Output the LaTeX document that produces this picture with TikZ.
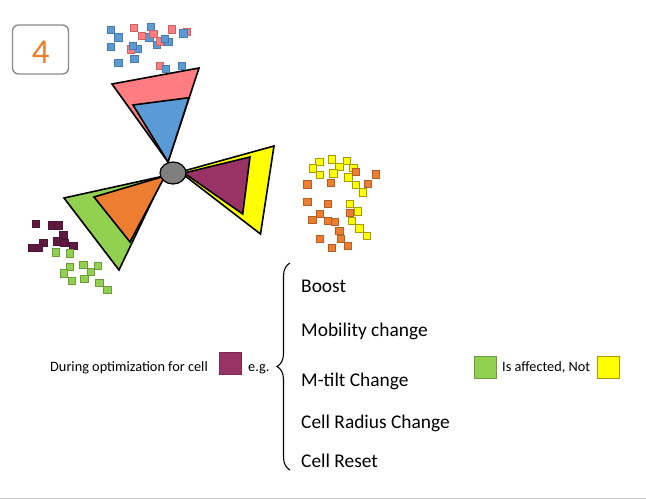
\documentclass[tikz,border=0pt]{standalone}
\usepackage{fontspec}
\setmainfont{Carlito}
\usetikzlibrary{decorations.pathreplacing,shapes.geometric}
\definecolor{cpink}{HTML}{FF7C80}
\definecolor{cblue}{HTML}{5B9BD5}
\definecolor{cyellow}{HTML}{FFFF00}
\definecolor{cpurple}{HTML}{993366}
\definecolor{cgreen}{HTML}{92D050}
\definecolor{corange}{HTML}{ED7D31}
\definecolor{cmaroon}{HTML}{5E1A40}
\definecolor{cgray}{HTML}{7F7F7F}
\definecolor{cframe}{HTML}{8C8C8C}
\tikzset{
  wedge/.style={draw=black, line width=1.6pt, line join=miter},
  sq/.style={line width=0.6pt},
  bigtxt/.style={font=\fontsize{19.4}{21}\selectfont, anchor=base west, inner sep=0pt},
  smalltxt/.style={font=\fontsize{14.3}{16}\selectfont, anchor=base west, inner sep=0pt},
  swatch/.style={minimum width=22pt, minimum height=22pt, inner sep=0pt, line width=0.6pt},
}
\newcommand{\sqs}[3]{\foreach \px/\py in {#3} {\draw[sq, fill=#1, draw=#2] (\px-3.6,\py-3.6) rectangle (\px+3.6,\py+3.6);}}
\begin{document}
\begin{tikzpicture}[x=1pt,y=-1pt]
\useasboundingbox (0,0) rectangle (646,500);
\fill[white] (0,0) rectangle (646,500);
\draw[line width=1.2pt, color=black!20] (0,498.8) -- (646,498.8);
% badge
\node[draw=cframe, line width=1.4pt, rounded corners=6pt, minimum width=56pt, minimum height=49pt] (badge) at (40.5,49.5) {};
\node[font=\fontsize{35}{37}\selectfont, text=corange, anchor=base, inner sep=0pt] (num) at (40.7,63.3) {4};
% wedges
\draw[wedge, fill=cpink] (168,162) -- (112,84) -- (199,68) -- cycle;
\draw[wedge, fill=cblue] (168,162) -- (133,105) -- (189,97.7) -- cycle;
\draw[wedge, fill=cyellow] (180,172) -- (274,146) -- (260.5,234) -- cycle;
\draw[wedge, fill=cpurple] (184,173) -- (250,157) -- (242.7,214) -- cycle;
\draw[wedge, fill=cgreen] (164,176) -- (64,198) -- (119,270) -- cycle;
\draw[wedge, fill=corange] (165,176) -- (94,197) -- (130,242) -- cycle;
\node[draw=black, line width=1.2pt, fill=cgray, ellipse, minimum width=26pt, minimum height=22pt, inner sep=0pt] (hub) at (173,173) {};
% squares
\sqs{cblue}{cblue!80!black}{110.7/30, 118.3/37.3, 151/26.7, 149.3/37.3, 183.3/33.3, 110.7/46.7, 132.7/46, 137.3/49, 156.7/44.7, 165/39, 168.3/41.7, 118.3/62.7, 134.3/59, 166/69, 181.7/66}
\sqs{cpink}{cpink!80!black}{134/28, 141.7/35.7, 153.3/34, 172/29.3, 186.7/31.7, 131/49.3, 160/41.3, 160/66}
\sqs{cblue}{cblue!80!black}{132.7/46, 166/69, 165/39, 183.3/33.3}
\sqs{cyellow}{olive!80!yellow}{319.3/161.7, 331.7/159.3, 346.7/160.7, 312.7/168.3, 339.3/166.7, 353.3/167.7, 320/175, 333.3/173.3, 348.3/177.3, 355.7/185, 362.7/192.3, 350/204, 357.7/211.3, 352/220.7, 359.3/228.3, 367/235.7}
\sqs{corange}{corange!75!black}{355.7/172, 376/174.3, 307.3/184.3, 330.7/183, 368/184, 307.3/202, 327.7/203.7, 320/213.7, 349.7/212.7, 312.3/219.7, 327.7/221, 335/221.7, 339.3/230.7, 320/238.7, 340.7/238.7, 332/248, 348/246}
\sqs{cmaroon}{cmaroon!80!black}{36/224, 51.7/225.3, 58.3/225.3, 63.3/234.7, 57.3/241.3, 64.3/242.7, 43.3/242.7, 32.3/247.7, 39/247.7, 73.3/245.7}
\sqs{cgreen}{cgreen!75!black}{55.7/252.3, 70/253.3, 70/266.7, 83.3/265, 97.7/266, 64/273.3, 90.7/272, 71.7/280.7, 84.3/278.7, 99.3/282.7, 107.3/290}
% legend text
\node[smalltxt] (during) at (50,371) {During optimization for cell};
\node[swatch, draw=cpurple!80!black, fill=cpurple] (cellsw) at (230,363) {};
\node[smalltxt] (eg) at (248,371) {e.g.};
\coordinate (btop) at (290,263);
\coordinate (bbot) at (290,470);
\draw[decorate, decoration={brace, amplitude=13pt}, line width=1.1pt] (bbot) -- (btop);
\node[bigtxt] (boost) at (301,292.3) {Boost};
\node[bigtxt] (mob) at (301,336) {Mobility change};
\node[bigtxt] (mtilt) at (301,386) {M-tilt Change};
\node[bigtxt] (radius) at (301,428.3) {Cell Radius Change};
\node[bigtxt] (reset) at (301,467.3) {Cell Reset};
\node[swatch, draw=cgreen!75!black, fill=cgreen] (gsw) at (485,367) {};
\node[smalltxt] (aff) at (502,371.7) {Is affected, Not};
\node[swatch, draw=olive!80!yellow, fill=cyellow] (ysw) at (608.3,367) {};
\end{tikzpicture}
\end{document}
